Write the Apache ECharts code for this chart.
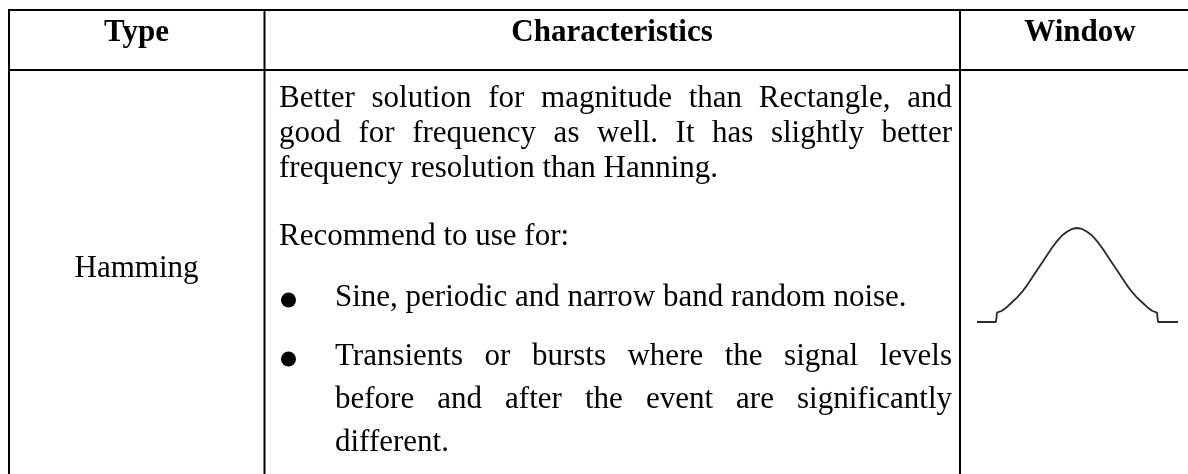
<!DOCTYPE html>
<html>
<head>
<meta charset="utf-8">
<script src="https://cdn.jsdelivr.net/npm/echarts@6/dist/echarts.min.js"></script>
<style>
  html, body { margin: 0; padding: 0; background: #fff; }
  #main { width: 1188px; height: 474px; }
</style>
</head>
<body>
<div id="main"></div>
<script>
// table text
const headers = ['Type', 'Characteristics', 'Window'];
const typeName = 'Hamming';
const para1 = [
  'Better solution for magnitude than Rectangle, and',
  'good for frequency as well. It has slightly better',
  'frequency resolution than Hanning.'
];
const recommend = 'Recommend to use for:';
const bullet1 = ['Sine, periodic and narrow band random noise.'];
const bullet2 = [
  'Transients or bursts where the signal levels',
  'before and after the event are significantly',
  'different.'
];

// window shape (x: sample, y: relative amplitude)
const winX = [0, 19, 20, 25, 30, 35, 40, 45, 50, 55, 60, 65, 70, 75, 80, 85, 90, 95, 100,
  105, 110, 115, 120, 125, 130, 135, 140, 145, 150, 155, 160, 165, 170, 175, 180, 181, 201];
const winY = [0, 0, 0.10, 0.12, 0.16, 0.21, 0.26, 0.32, 0.39, 0.47, 0.55, 0.63, 0.71, 0.79, 0.86, 0.92, 0.96, 0.99, 1.0,
  0.99, 0.96, 0.92, 0.86, 0.79, 0.71, 0.63, 0.55, 0.47, 0.39, 0.32, 0.26, 0.21, 0.16, 0.12, 0.10, 0, 0];

// layout
const FONT = '31px "Liberation Serif", "Times New Roman", serif';
const BOLD = 'bold 31px "Liberation Serif", "Times New Roman", serif';
const MID = 10; // distance from text middle to baseline
const textLeft = 279, textRight = 952, bulletLeft = 335;

const ctx = document.createElement('canvas').getContext('2d');

function txt(s, x, baseline, font, align) {
  return {
    type: 'text', x: x, y: baseline - MID, silent: true,
    style: { text: s, font: font, fill: '#000', align: align || 'left', verticalAlign: 'middle' }
  };
}

// one line of body text, spread out to the right edge if justify is set
function bodyLine(str, x0, x1, baseline, justify) {
  ctx.font = FONT;
  let words = str.split(' ');
  let ws = words.map(w => ctx.measureText(w).width);
  let total = ws.reduce((a, b) => a + b, 0);
  let gap = ctx.measureText(' ').width;
  if (justify && words.length > 1) gap = (x1 - x0 - total) / (words.length - 1);
  let out = [];
  let x = x0;
  for (let i = 0; i < words.length; i++) {
    out.push(txt(words[i], x, baseline, FONT));
    x += ws[i] + gap;
  }
  return out;
}

function hline(y, x1, x2) {
  return { type: 'line', silent: true, shape: { x1: x1, y1: y, x2: x2, y2: y }, style: { stroke: '#000', lineWidth: 2 } };
}
function vline(x, y1, y2) {
  return { type: 'line', silent: true, shape: { x1: x, y1: y1, x2: x, y2: y2 }, style: { stroke: '#000', lineWidth: 2 } };
}

let elements = [
  hline(10, 8, 1188),
  hline(70, 8, 1188),
  vline(9, 9, 474),
  vline(264.5, 9, 474),
  vline(960, 9, 474)
];

elements.push(txt(headers[0], 136.5, 43, BOLD, 'center'));
elements.push(txt(headers[1], 612, 43, BOLD, 'center'));
elements.push(txt(headers[2], 1080, 43, BOLD, 'center'));
elements.push(txt(typeName, 136.5, 279, FONT, 'center'));

const para1Base = [109, 144, 179];
para1.forEach((l, i) => elements.push(...bodyLine(l, textLeft, textRight, para1Base[i], i < para1.length - 1)));
elements.push(...bodyLine(recommend, textLeft, textRight, 247, false));

elements.push({ type: 'circle', silent: true, shape: { cx: 288.5, cy: 300, r: 7.5 }, style: { fill: '#000' } });
elements.push(...bodyLine(bullet1[0], bulletLeft, textRight, 308, false));

elements.push({ type: 'circle', silent: true, shape: { cx: 288.5, cy: 359, r: 7.5 }, style: { fill: '#000' } });
const bullet2Base = [367, 410, 453];
bullet2.forEach((l, i) => elements.push(...bodyLine(l, bulletLeft, textRight, bullet2Base[i], i < bullet2.length - 1)));

const chart = echarts.init(document.getElementById('main'), null, { renderer: 'canvas' });
chart.setOption({
  animation: false,
  backgroundColor: '#fff',
  grid: { left: 977, top: 228, width: 201, height: 94 },
  xAxis: { type: 'value', min: 0, max: 201, show: false },
  yAxis: { type: 'value', min: 0, max: 1, show: false },
  series: [
    {
      type: 'line',
      data: winX.map((x, i) => [x, winY[i]]),
      symbol: 'none',
      clip: false,
      lineStyle: { color: '#2a2a2a', width: 1.8 }
    }
  ],
  graphic: elements
});
</script>
</body>
</html>
